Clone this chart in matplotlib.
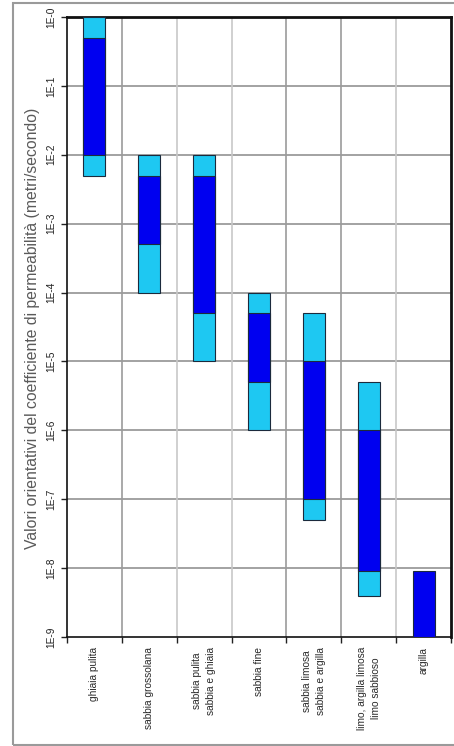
import numpy as np
import matplotlib
matplotlib.use("Agg")
import matplotlib.pyplot as plt
from matplotlib.patches import Rectangle

# Soil types and their permeability ranges (m/s)
categories = [
    "ghiaia pulita",
    "sabbia grossolana",
    "sabbia pulita\nsabbia e ghiaia",
    "sabbia fine",
    "sabbia limosa\nsabbia e argilla",
    "limo, argilla limosa\nlimo sabbioso",
    "argilla",
]
range_hi = [1.0, 1e-2, 1e-2, 1e-4, 5e-5, 5e-6, np.nan]
range_lo = [5e-3, 1e-4, 1e-5, 1e-6, 5e-8, 4e-9, np.nan]
core_hi = [5e-1, 5e-3, 5e-3, 5e-5, 1e-5, 1e-6, 9e-9]
core_lo = [1e-2, 5e-4, 5e-5, 5e-6, 1e-7, 9e-9, 1e-9]
decade_labels = ["1E-0", "1E-1", "1E-2", "1E-3", "1E-4",
                 "1E-5", "1E-6", "1E-7", "1E-8", "1E-9"]
axis_title = "Valori orientativi del coefficiente di permeabilità (metri/secondo)"

plt.rcParams["font.family"] = ["Liberation Sans", "DejaVu Sans"]

W, H = 454, 746
fig = plt.figure(figsize=(W / 100, H / 100), dpi=100)
fig.patch.set_facecolor("white")

# outer chart frame
fig.add_artist(Rectangle((13 / W, 1.5 / H), 460 / W, 742 / H,
                         transform=fig.transFigure, fill=False,
                         edgecolor="#9a9a9a", linewidth=1.5))

ax = fig.add_axes([67 / W, (H - 637) / H, (451 - 67) / W, 620 / H])
ax.set_yscale("log")
ax.set_ylim(1e-9, 1.0)
n = len(categories)
ax.set_xlim(0, n)

light = "#1ec8f2"
dark = "#0000f0"
edge = "#1b2a3c"
x = np.arange(n) + 0.5
width = 0.4

for i in range(n):
    if not np.isnan(range_hi[i]):
        ax.bar(x[i], range_hi[i] - range_lo[i], bottom=range_lo[i], width=width,
               color=light, edgecolor=edge, linewidth=0.8, zorder=3)
    ax.bar(x[i], core_hi[i] - core_lo[i], bottom=core_lo[i], width=width,
           color=dark, edgecolor=edge, linewidth=0.8, zorder=4)

# grid
decades = [10.0 ** (-k) for k in range(10)]
for d in decades[1:-1]:
    ax.axhline(d, color="#9b9b9b", linewidth=1.3, zorder=1)
vcols = ["#9b9b9b", "#c8c8c8", "#c8c8c8", "#9b9b9b", "#9b9b9b", "#c8c8c8"]
for k in range(1, n):
    ax.axvline(k, color=vcols[k - 1], linewidth=1.2, zorder=1)

ax.set_yticks(decades)
ax.set_yticklabels(decade_labels, rotation=90, va="center", fontsize=7.3,
                   color="#222222")
ax.yaxis.set_minor_locator(matplotlib.ticker.NullLocator())
ax.set_xticks(np.arange(n + 1))
ax.set_xticklabels([])
ax.tick_params(axis="both", direction="out", length=4, width=1, color="#222222")
ax.tick_params(axis="y", pad=4)

for i, lab in enumerate(categories):
    ax.text(x[i], -0.016, lab, transform=ax.get_xaxis_transform(),
            rotation=90, ha="center", va="top", fontsize=7.3,
            color="#2a2a2a", linespacing=1.45)

for side in ["left", "bottom"]:
    ax.spines[side].set_linewidth(1.2)
    ax.spines[side].set_color("#111111")
for side in ["top", "right"]:
    ax.spines[side].set_linewidth(2.0)
    ax.spines[side].set_color("#111111")

fig.text(33 / W, 1 - 328 / H, axis_title, rotation=90, ha="center", va="center",
         fontsize=11.3, color="#5a5a5a")

fig.savefig("out.png", dpi=100)
